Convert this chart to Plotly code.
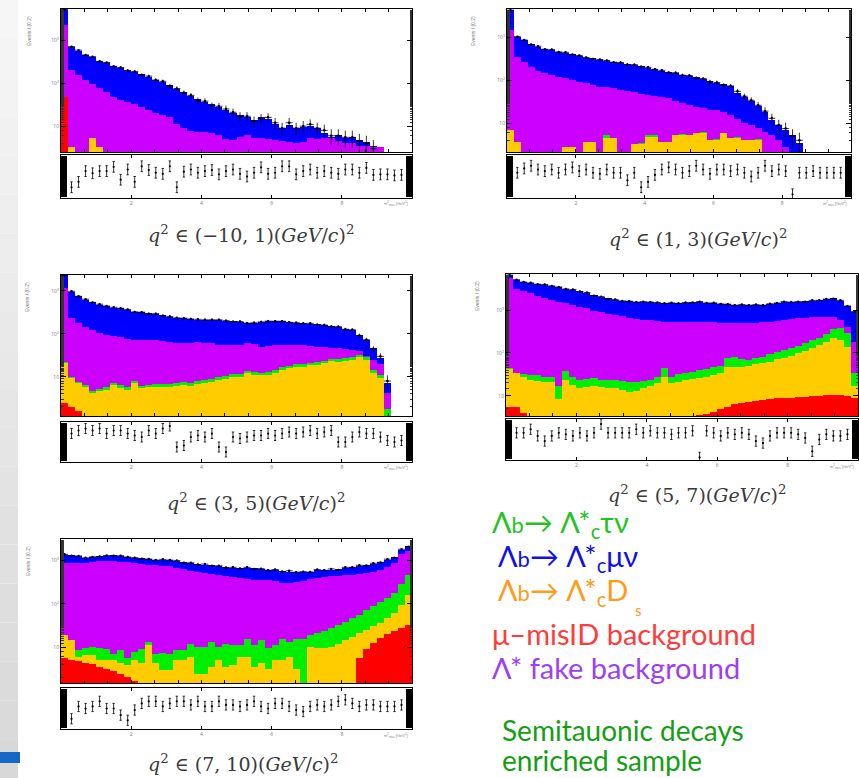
import numpy as np
import plotly.graph_objects as go

W, H = 859, 778
NBINS = 50
X_LO, X_HI = 0.0, 10.0
CENTERS = np.linspace(0.1, 9.9, NBINS)

# ---------------- stack levels (top of each layer, counts per bin) ----------------
# order from bottom: misID (red) < D_s (orange) < tau nu (green) < fake (purple) < mu nu (blue = total)
P1_MU = [5000, 690, 560, 460, 400, 330, 290, 250, 220, 200,
         180, 160, 140, 120, 105, 89, 71, 63, 50, 42,
         36, 32, 28, 24, 20, 18, 16, 14, 16, 15,
         11, 8.9, 10.5, 8.9, 9.5, 10, 8.9, 7.1, 5.6, 6.3,
         5.2, 5.6, 4.8, 4.2, 3.4, 3.2, 0, 0, 0, 0]
P1_FAKE = [2240, 200, 158, 120, 95, 76, 63, 48, 40, 36,
           33, 28, 24, 20, 18, 16, 11, 8.9, 7.9, 7.2,
           7.2, 6.9, 6.3, 5.0, 4.7, 5.6, 6.2, 5.2, 5.2, 5.0,
           4.7, 4.5, 4.3, 4.0, 4.3, 5.2, 5.0, 5.2, 5.2, 4.5,
           4.0, 4.0, 3.5, 3.4, 3.2, 3.2, 0, 0, 0, 0]
P1_TAU = [47, 3.2, 0, 0, 5.2, 3.2, 0, 0, 0, 0] + [0] * 40
P1_DS = [47, 3.2, 0, 0, 5.2, 3.2, 0, 0, 0, 0] + [0] * 40
P1_MIS = [47] + [0] * 49
P1_DATA = [5100, 700, 580, 450, 410, 320, 300, 245, 230, 195,
           185, 155, 145, 118, 110, 85, 75, 60, 52, 40,
           38, 30, 29, 25, 21, 17, 17, 13, 15, 16,
           12, 9, 12, 9, 10, 11, 9, 8, 6, 6,
           5.5, 5.5, 4.5, 4, 3, None, None, None, None, None]
P1_PULL = [-0.5, -2.0, -1.0, 1.0, 0.6, 1.0, 1.0, 1.8, -0.6, 1.3,
           -1.0, 1.9, 1.2, 0.7, 0.5, 1.9, -2.0, 0.9, 1.3, 0.7,
           1.0, 1.2, 0.4, 1.0, 1.3, 0.5, 0.0, 0.7, 1.7, 0.5,
           0.7, 1.9, 1.9, 0.4, 1.0, 1.3, 0.7, 1.0, 0.7, 0.5,
           1.3, 1.3, 0.7, 1.6, 0.3, 0.4, 0.4, 0.2, 0.3, -0.3]

P2_MU = [4300, 1000, 830, 680, 600, 530, 500, 460, 430, 400,
         360, 330, 320, 295, 280, 265, 250, 235, 225, 210,
         195, 180, 165, 155, 145, 132, 126, 115, 105, 95,
         85, 79, 71, 50, 40, 32, 25, 18, 12, 8.9,
         7.1, 5.2, 3.5, 0, 0, 0, 0, 0, 0, 0]
P2_FAKE = [1450, 340, 265, 200, 165, 145, 132, 120, 112, 100,
           91, 85, 76, 69, 68, 65, 60, 55, 52, 48,
           45, 43, 40, 38, 33, 30, 27, 24, 22, 20,
           20, 18, 15.5, 12.6, 10, 8.9, 7.6, 6.2, 5.2, 4.0,
           2.8, 0, 0, 0, 0, 0, 0, 0, 0, 0]
P2_TAU = [6.9, 3.6, 0, 0, 0, 0, 0, 0, 2.8, 2.8,
          0, 3.6, 3.6, 0, 5.2, 4.5, 0, 0, 3.2, 3.4,
          5.4, 5.2, 3.6, 3.6, 5.2, 5.6, 5.2, 5.9, 6.2, 4.0,
          4.3, 5.9, 4.5, 4.8, 4.0, 4.0, 4.4, 0, 0, 0,
          0, 0, 0, 0, 0, 0, 0, 0, 0, 0]
P2_DS = [6.9, 3.6, 0, 0, 0, 0, 0, 0, 2.8, 2.8,
         0, 3.6, 3.6, 0, 4.5, 4.5, 0, 0, 3.2, 3.2,
         4.7, 4.7, 3.6, 3.6, 5.2, 5.2, 5.2, 5.9, 5.9, 4.0,
         4.0, 5.9, 4.5, 4.5, 4.0, 4.0, 4.0, 0, 0, 0,
         0, 0, 0, 0, 0, 0, 0, 0, 0, 0]
P2_MIS = [0] * 50
P2_DATA = [4200, 1020, 850, 670, 610, 520, 510, 450, 440, 390,
           370, 335, 310, 300, 285, 260, 255, 230, 228, 205,
           198, 178, 168, 150, 148, 130, 128, 112, 108, 92,
           88, 76, 73, 55, 42, 34, 26, 19, 13, 9,
           7.5, 5, 4, None, None, None, None, None, None, None]
P2_PULL = [0.0, 0.7, 1.5, 2.0, 1.3, 1.0, 1.3, 0.7, 1.3, 1.7,
           1.0, 1.3, 0.7, 0.5, 1.3, 0.7, 0.7, -0.7, 0.7, -2.0,
           -1.0, 0.3, 1.3, 1.7, 1.3, 0.7, 1.0, 2.0, 1.3, 0.5,
           1.3, 1.3, 1.0, 1.3, 0.7, 0.0, 0.7, 2.0, 1.0, 1.3,
           1.0, -3.3, 0.7, 0.7, 1.0, 0.7, 0.7, 0.7, 0.7, 0.7]

P3_MU = [2340, 955, 760, 630, 550, 480, 450, 410, 400, 365,
         330, 315, 300, 290, 270, 250, 240, 230, 225, 215,
         215, 210, 215, 200, 195, 190, 180, 178, 186, 195,
         200, 195, 190, 180, 178, 174, 166, 158, 151, 145,
         132, 123, 95, 71, 47, 28, 7.2, 0, 0, 0]
P3_FAKE = [1150, 230, 178, 148, 120, 105, 95, 87, 83, 76,
           72, 72, 71, 72, 68, 66, 63, 60, 63, 66,
           63, 60, 56, 55, 55, 56, 60, 58, 50, 51,
           54, 55, 55, 54, 55, 52, 50, 49, 47, 46,
           44, 43, 39, 30, 25, 20, 4.3, 0, 0, 0]
P3_TAU = [22, 10, 7.8, 6.6, 4.8, 5.3, 5.7, 7.4, 6.4, 5.7,
          8.2, 6.3, 6.6, 6.8, 6.8, 6.8, 7.1, 7.5, 7.3, 7.9,
          8.3, 9, 9.8, 10.5, 11.7, 11.5, 13.8, 12.9, 12.6, 12.9,
          14.5, 16.7, 18, 20, 20, 21.4, 21.8, 24, 26, 25.8,
          27.6, 28.7, 33, 28.5, 14.5, 11, 1.8, 0, 0, 0]
P3_DS = [21, 9.3, 7.1, 5.9, 4.2, 4.6, 5.0, 6.5, 5.6, 5.0,
         7.2, 5.5, 5.8, 5.9, 5.9, 5.9, 6.2, 6.5, 6.3, 6.9,
         7.2, 7.8, 8.5, 9.1, 10.2, 10, 12, 11.2, 11, 11.2,
         12.6, 14.5, 15.8, 17.4, 17.4, 18.6, 19, 21, 23, 22.4,
         24, 25, 29.5, 25, 12.6, 9.5, 0, 0, 0, 0]
P3_MIS = [2.5, 2.0, 1.6] + [0] * 47
P3_DATA = [2300, 980, 750, 640, 540, 490, 445, 415, 395, 370,
           325, 320, 295, 295, 265, 255, 236, 232, 222, 218,
           212, 213, 212, 203, 192, 193, 178, 181, 190, 198,
           197, 197, 186, 182, 175, 176, 163, 160, 148, 147,
           128, 125, 92, 73, 45, 30, 8, None, None, None]
P3_PULL = [-1.0, 1.7, 2.3, 2.7, 2.3, 2.7, 1.7, 2.3, 2.3, 1.7,
           1.3, 1.0, 2.3, 1.7, 2.7, 3.2, -1.0, -0.7, 1.0, 1.3,
           1.0, 1.7, -1.0, -2.0, 1.0, 0.7, 1.0, 1.3, 1.3, 1.7,
           1.3, 1.7, 2.0, 1.7, 2.0, 2.3, 1.7, 2.0, 2.3, 0.0,
           0.0, 1.0, 2.0, 1.7, 1.7, 1.0, 0.3, 0.0, 0.3, 0.0]

P4_MU = [6450, 5000, 4570, 4270, 4070, 3890, 3700, 3390, 3160, 2950,
         2750, 2510, 2190, 2000, 1860, 1740, 1660, 1590, 1550, 1550,
         1550, 1480, 1450, 1450, 1450, 1480, 1510, 1550, 1480, 1450,
         1410, 1350, 1320, 1320, 1320, 1320, 1320, 1380, 1480, 1550,
         1550, 1550, 1590, 1660, 1700, 1780, 1860, 1660, 1260, 910]
P4_FAKE = [5500, 3160, 2750, 2450, 2140, 1900, 1700, 1550, 1450, 1320,
           1200, 1100, 955, 890, 810, 760, 710, 660, 630, 600,
           590, 560, 540, 540, 540, 540, 540, 540, 540, 540,
           510, 490, 490, 490, 490, 500, 525, 540, 560, 590,
           620, 650, 660, 690, 690, 690, 690, 590, 410, 180]
P4_TAU = [44, 35, 33, 31, 30, 28, 28, 16.6, 37, 28,
          23, 25, 26, 24, 23, 23, 22, 21, 21, 22,
          23, 28, 44, 28, 32, 34, 36, 40, 43, 46,
          50, 76, 79, 72, 69, 76, 81, 95, 107, 117,
          132, 148, 166, 200, 229, 282, 355, 372, 288, 34]
P4_DS = [42, 34, 28, 23, 22, 21, 21, 8.5, 23, 18,
         15, 16, 16.6, 16, 15, 15, 13.8, 12.6, 13.2, 15,
         16.6, 20, 28, 20, 21, 23, 24.5, 26, 28, 31,
         35, 48, 48, 48, 50, 54, 58, 63, 71, 76,
         87, 98, 110, 129, 151, 182, 219, 200, 141, 16.6]
P4_MIS = [5.6, 5.6, 3.9] + [0] * 24 + [3.5, 3.7, 4.3, 4.9, 5.6, 6.3, 6.8, 7.2, 7.6, 7.9,
                                       8.3, 8.7, 8.9, 9.1, 9.3, 9.5, 9.8, 10, 10.2, 10.5,
                                       10.2, 9.8, 8.9]
P4_DATA = [6500, 5100, 4500, 4300, 4000, 3950, 3650, 3450, 3100, 3000,
           2700, 2550, 2150, 2050, 1820, 1770, 1630, 1610, 1530, 1570,
           1530, 1500, 1430, 1470, 1430, 1500, 1490, 1570, 1460, 1470,
           1390, 1370, 1300, 1340, 1300, 1340, 1300, 1400, 1460, 1570,
           1530, 1570, 1570, 1680, 1680, 1800, 1830, 1680, 1240, 930]
P4_PULL = [-1.7, 1.3, 1.3, 2.0, 0.7, -0.3, 0.7, 1.3, 1.0, 0.7,
           1.3, 0.7, 1.3, 3.0, 1.3, 1.3, 1.3, 1.3, 2.0, 1.3,
           1.7, 1.3, 1.3, 1.0, 1.3, 1.3, 1.7, -3.5, 1.7, 1.3,
           0.7, 1.3, 1.0, 1.3, 1.0, -0.3, -0.7, 0.7, 1.3, 1.3,
           1.3, 1.0, 0.3, -2.3, 0.0, 1.0, 0.7, 0.7, 1.0, -1.3]

P5_MU = [1380, 1320, 1260, 1150, 1200, 1260, 1290, 1320, 1290, 1230,
         1150, 1120, 1070, 1050, 1050, 1050, 980, 910, 870, 830,
         810, 780, 740, 710, 680, 680, 680, 660, 630, 620,
         600, 575, 560, 550, 540, 560, 600, 620, 620, 630,
         680, 720, 760, 790, 850, 930, 1050, 1200, 1780, 2140]
P5_FAKE = [890, 890, 890, 890, 930, 955, 955, 955, 930, 910,
           890, 850, 810, 790, 760, 740, 690, 630, 590, 540,
           510, 490, 470, 440, 410, 400, 370, 360, 360, 360,
           340, 310, 300, 315, 330, 370, 400, 410, 430, 440,
           460, 470, 490, 510, 550, 620, 720, 890, 1410, 1660]
P5_TAU = [19, 14.5, 8.5, 9.3, 10, 9.3, 8.9, 7.1, 8.5, 5.5,
          7.8, 8.9, 13.2, 7.1, 7.4, 7.1, 8.5, 8.5, 12, 10,
          10, 13.2, 10, 12, 11, 11, 15.8, 11, 14.5, 9.3,
          11, 15.8, 13.2, 15.8, 15.8, 19, 21, 23, 28, 32,
          39, 46, 55, 72, 87, 110, 135, 178, 282, 468]
P5_DS = [19, 14.5, 5.9, 6.5, 6.5, 5.0, 5.0, 5.0, 4.2, 3.8,
         5.0, 4.2, 11, 4.2, 3.0, 3.0, 5.0, 5.0, 5.9, 2.4,
         2.4, 3.5, 5.0, 3.5, 3.8, 5.9, 5.9, 3.5, 4.2, 3.2,
         5.0, 5.0, 5.9, 3.2, 1.4, 10, 9.3, 9.3, 10, 12,
         14.5, 17.4, 21, 25, 30, 36, 46, 63, 95, 158]
P5_MIS = [5.5, 5.1, 4.7, 4.4, 4.0, 3.5, 3.2, 2.8, 2.4, 2.0, 1.66] + [0] * 31 + \
         [5.5, 8.9, 12.6, 16.6, 20, 24, 28, 32]
P5_DATA = [1400, 1300, 1280, 1160, 1220, 1240, 1310, 1300, 1300, 1210,
           1170, 1100, 1090, 1030, 1070, 1030, 1000, 890, 890, 810,
           830, 760, 760, 690, 700, 660, 700, 640, 650, 600,
           620, 560, 580, 540, 555, 545, 620, 600, 640, 610,
           700, 700, 780, 770, 870, 910, 1080, 1170, 1830, 2100]
P5_PULL = [-2.2, -2.0, 0.4, 0.0, 0.4, 1.4, 0.0, 0.0, -1.3, -2.3,
           -0.3, 1.0, 1.4, 1.4, 0.4, 1.0, 1.4, 1.4, 0.7, 1.4,
           0.4, 0.4, 1.4, 0.7, 0.7, 0.4, 0.7, 1.4, 0.4, 0.0,
           1.0, 1.0, 0.4, -0.3, -0.6, 0.4, 0.7, 0.4, 0.7, 1.4,
           1.7, 1.0, 0.4, 0.7, 0.7, 0.4, 0.4, 0.4, 0.7, 0.4]

CAPTIONS = ["(−10, 1)", "(1, 3)", "(3, 5)", "(5, 7)", "(7, 10)"]
YTICK_VALS = [10, 100, 1000]
YTICK_TEXT = ["10", "10<sup>2</sup>", "10<sup>3</sup>"]
XTICK_VALS = [2, 4, 6, 8]
XTICK_TEXT = ["2", "4", "6", "8"]

SERIES = [
    (P1_MU, P1_FAKE, P1_TAU, P1_DS, P1_MIS, P1_DATA, P1_PULL),
    (P2_MU, P2_FAKE, P2_TAU, P2_DS, P2_MIS, P2_DATA, P2_PULL),
    (P3_MU, P3_FAKE, P3_TAU, P3_DS, P3_MIS, P3_DATA, P3_PULL),
    (P4_MU, P4_FAKE, P4_TAU, P4_DS, P4_MIS, P4_DATA, P4_PULL),
    (P5_MU, P5_FAKE, P5_TAU, P5_DS, P5_MIS, P5_DATA, P5_PULL),
]
for s in SERIES:
    for a in s:
        assert len(a) == NBINS, len(a)

# ---------------- layout geometry (pixels) ----------------
# (x0, x1, main_top, main_bottom, ratio_top, ratio_bottom, log_range, caption_x, caption_y, ytitle_x, ratio_dtick)
GEOM = [
    (61, 412, 9, 152, 155, 198, [0.40, 3.72], 251, 234, 29, 0.1),
    (507, 851, 9, 152, 155, 198, [0.33, 3.65], 698, 238, 473, 0.1),
    (61, 412, 275, 416, 422, 462, [0.09, 3.37], 256, 502, 27, 0.1),
    (506, 858, 274, 416, 419, 460, [0.53, 3.84], 697, 494, 477, 0.2),
    (61, 412, 539, 683, 688, 729, [0.17, 3.50], 243, 763, 28, 0.1),
]

COLORS = dict(mu="#0000FF", fake="#CC00FF", tau="#00EE00", ds="#FFCC00", mis="#FF0000")


def px_x(a, b):
    return [a / W, b / W]


def px_y(top, bottom):
    return [1 - bottom / H, 1 - top / H]


def pos(v):
    return [x if (x is not None and x > 0) else None for x in v]


fig = go.Figure()
layout = {}
annotations = []

for k, (series, g) in enumerate(zip(SERIES, GEOM), start=1):
    mu, fake, tau, ds, mis, data, pull = series
    x0, x1, mt, mb, rt, rb, lrange, cx, cy, ytx, rdt = g
    mi, ri = 2 * k - 1, 2 * k
    xm, ym = f"x{mi}", f"y{mi}"
    xr, yr = f"x{ri}", f"y{ri}"

    for arr, col in [(mu, COLORS["mu"]), (fake, COLORS["fake"]), (tau, COLORS["tau"]),
                     (ds, COLORS["ds"]), (mis, COLORS["mis"])]:
        fig.add_trace(go.Bar(x=CENTERS, y=pos(arr), width=0.2, marker=dict(color=col, line=dict(width=0)),
                             opacity=1, xaxis=xm, yaxis=ym, showlegend=False, hoverinfo="skip"))
    fig.add_trace(go.Scatter(x=CENTERS, y=data, mode="markers", xaxis=xm, yaxis=ym, showlegend=False,
                             marker=dict(color="black", size=2.5),
                             error_y=dict(type="sqrt", color="black", thickness=0.8, width=0),
                             error_x=dict(type="constant", value=0.1, color="black", thickness=0.8, width=0)))
    fig.add_trace(go.Scatter(x=CENTERS, y=pull, mode="markers", xaxis=xr, yaxis=yr, showlegend=False,
                             marker=dict(color="black", size=2.2),
                             error_y=dict(type="constant", value=1.0, color="black", thickness=0.8, width=1.2)))

    common = dict(showline=True, linecolor="black", linewidth=1, showgrid=False, zeroline=False)
    layout[f"xaxis{mi}"] = dict(domain=px_x(x0, x1), range=[X_LO, X_HI], anchor=ym, showticklabels=False,
                                ticks="inside", ticklen=3, tickcolor="black", tickmode="linear", tick0=0,
                                dtick=2 / 3, mirror="ticks", **common)
    layout[f"yaxis{mi}"] = dict(domain=px_y(mt, mb), type="log", range=lrange, anchor=xm,
                                tickmode="array", tickvals=YTICK_VALS, ticktext=YTICK_TEXT,
                                tickfont=dict(size=5, color="#777"), ticks="inside", ticklen=5,
                                tickcolor="black", mirror="ticks",
                                minor=dict(ticks="inside", ticklen=2.5, tickcolor="#333"), **common)
    layout[f"xaxis{ri}"] = dict(domain=px_x(x0, x1), range=[X_LO, X_HI], anchor=yr,
                                tickmode="array", tickvals=XTICK_VALS, ticktext=XTICK_TEXT,
                                tickfont=dict(size=5, color="#777"), ticks="inside", ticklen=3,
                                tickcolor="black", mirror="ticks", **common)
    layout[f"yaxis{ri}"] = dict(domain=px_y(rt, rb), range=[-4, 4], anchor=xr, showticklabels=False,
                                tickmode="linear", tick0=-4, dtick=rdt, ticks="inside", ticklen=6,
                                tickcolor="black", tickwidth=1, mirror="ticks", **common)

    annotations.append(dict(
        x=cx / W, y=1 - cy / H, xref="paper", yref="paper", xanchor="center", yanchor="middle",
        showarrow=False, font=dict(family="DejaVu Serif", size=19, color="#3a3a3a"),
        text=f"<i>q</i><sup>2</sup> ∈ {CAPTIONS[k - 1]}(<i>GeV</i>/<i>c</i>)<sup>2</sup>"))
    annotations.append(dict(
        x=ytx / W, y=1 - (mt + 22) / H, xref="paper", yref="paper", xanchor="center", yanchor="middle",
        showarrow=False, textangle=-90, font=dict(family="Liberation Sans", size=5, color="#777"),
        text="Events / (0.2)"))
    annotations.append(dict(
        x=(x1 - 2) / W, y=1 - (rb + 6) / H, xref="paper", yref="paper", xanchor="right", yanchor="middle",
        showarrow=False, font=dict(family="Liberation Sans", size=4, color="#888"),
        text="m<sup>2</sup><sub>miss</sub> [GeV<sup>2</sup>]"))

# ---------------- legend text ----------------
LEG_FONT = "Lato"
B = '<span style="font-size:22px">b</span>'
legend_lines = [
    (490, 523, "#22C322", f"Λ{B}→ Λ*<sub>c</sub>τν", 29),
    (496, 557, "#1010E6", f"Λ{B}→ Λ*<sub>c</sub>μν", 29),
    (496, 591, "#FF9A1A", f"Λ{B}→ Λ*<sub>c</sub>D", 29),
    (633, 610, "#FF9A1A", "s", 15),
    (490, 633, "#FF3B3B", "μ–misID background", 29),
    (490, 667, "#9B40F5", "Λ* fake background", 29),
    (500, 730, "#149E14", "Semitauonic decays", 28),
    (500, 760, "#149E14", "enriched sample", 28),
]
for lx, ly, col, txt, fs in legend_lines:
    annotations.append(dict(x=lx / W, y=1 - ly / H, xref="paper", yref="paper", xanchor="left",
                            yanchor="middle", showarrow=False, text=txt,
                            font=dict(family=LEG_FONT, size=fs, color=col)))

# ---------------- slide decoration ----------------
shapes = []
nb = 20
for i in range(nb):
    t = i / (nb - 1)
    g = int(round(246 - 30 * t))
    shapes.append(dict(type="rect", xref="paper", yref="paper", x0=0, x1=18 / W,
                       y0=1 - (i + 1) / nb, y1=1 - i / nb,
                       fillcolor=f"rgb({g},{g},{g})", line=dict(width=0), layer="below"))
shapes.append(dict(type="rect", xref="paper", yref="paper", x0=0, x1=20 / W,
                   y0=1 - 763 / H, y1=1 - 752 / H, fillcolor="#1767C6", line=dict(width=0)))

fig.update_layout(
    width=W, height=H, margin=dict(l=0, r=0, t=0, b=0),
    paper_bgcolor="white", plot_bgcolor="white",
    barmode="overlay", bargap=0, showlegend=False,
    annotations=annotations, shapes=shapes, **layout)

fig.write_html("out.html", config={"displayModeBar": False},
               post_script="document.body.style.margin='0px';document.body.style.overflow='hidden';")
